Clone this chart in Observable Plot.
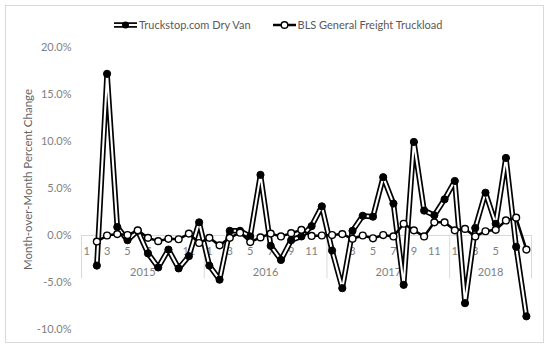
<!DOCTYPE html>
<html>
<head>
<meta charset="utf-8">
<script src="https://cdn.jsdelivr.net/npm/d3@7"></script>
<script src="https://cdn.jsdelivr.net/npm/@observablehq/plot@0.6"></script>
<style>
  body { margin: 0; background: #fff; }
  #wrap { position: relative; width: 550px; height: 350px; font-family: Lato, "Open Sans", sans-serif; }
  #frame { position: absolute; left: 5px; top: 5px; width: 539px; height: 338px; border: 1px solid #d9d9d9; box-sizing: border-box; pointer-events: none; }
  #legend { position: absolute; left: 113px; top: 18px; display: flex; align-items: center; font-size: 11px; color: #595959; }
  .item { display: flex; align-items: center; }
  .item svg { margin-right: 1px; }
  #chart { position: absolute; left: 0; top: 0; }
</style>
</head>
<body>
<div id="wrap">
  <div id="chart"></div>
  <div id="frame"></div>
  <div id="legend"></div>
</div>
<script>
// Category axis: years and how many months each covers; odd-month tick labels
const years = ["2015", "2016", "2017", "2018"];
const monthsPerYear = [12, 12, 12, 8];
const monthTickLabels = ["1", "3", "5", "7", "9", "11"];

const seriesNames = ["Truckstop.com Dry Van", "BLS General Freight Truckload"];

// Month-over-month % change, Jan 2015 .. Aug 2018 (Jan 2015 has no value)
const truckstop = [
  null, -3.2, 17.2, 0.9, -0.5, 0.5, -1.9, -3.4, -1.5, -3.5, -2.2, 1.4,
  -3.2, -4.7, 0.5, 0.5, -0.1, 6.45, -1.1, -2.6, -0.5, -0.1, 1.0, 3.1,
  -1.6, -5.6, 0.5, 2.1, 2.0, 6.2, 3.4, -5.25, 9.95, 2.65, 2.15, 3.85,
  5.8, -7.2, 0.8, 4.55, 1.25, 8.25, -1.2, -8.6
];
const bls = [
  null, -0.65, 0.0, 0.15, 0.05, 0.55, -0.25, -0.6, -0.35, -0.4, 0.2, -0.8,
  -0.25, -1.05, -0.25, 0.3, -0.7, -0.2, 0.2, -0.1, 0.25, 0.6, -0.05, 0.0,
  0.05, 0.15, -0.35, 0.0, -0.3, 0.05, -0.1, 1.25, 0.55, -0.1, 1.4, 1.4,
  0.55, 0.7, -0.1, 0.45, 0.6, 1.6, 1.9, -1.5
];
const yTicks = [-10, -5, 0, 5, 10, 15, 20];
const yTitle = "Month-over-Month Percent Change";

// Build category table
const cats = [];
years.forEach((yr, yi) => {
  for (let m = 1; m <= monthsPerYear[yi]; m++) cats.push({year: yr, month: String(m)});
});
cats.forEach((c, i) => { c.i = i + 0.5; c.ts = truckstop[i]; c.bls = bls[i]; });
const nCat = cats.length;
const pts = cats.filter(c => c.ts != null);
const monthLabelRows = cats.filter(c => monthTickLabels.includes(c.month));
let start = 0;
const yearRows = years.map((yr, yi) => { const r = {year: yr, x0: start, x1: start + monthsPerYear[yi]}; start += monthsPerYear[yi]; return r; });
const boundaries = [0, ...yearRows.map(r => r.x1)];

const gray = "#d9d9d9";
const tickColor = "#808080";

const chart = Plot.plot({
  width: 550,
  height: 350,
  marginLeft: 81,
  marginRight: 19,
  marginTop: 47,
  marginBottom: 21,
  style: {fontFamily: "Lato, 'Open Sans', sans-serif", fontSize: "11px", background: "transparent"},
  x: {domain: [0, nCat], axis: null},
  y: {domain: [-10, 20], axis: null},
  marks: [
    Plot.ruleY([0], {x1: 0, x2: nCat, stroke: gray, strokeWidth: 1}),
    Plot.ruleX(boundaries, {y1: 0, y2: -4.6, stroke: gray, strokeWidth: 1}),
    Plot.text(monthLabelRows, {x: "i", y: 0, text: "month", dy: 16, fill: tickColor, fontSize: 11}),
    Plot.text(yearRows, {x: d => (d.x0 + d.x1) / 2, y: 0, text: "year", dy: 37, fill: tickColor, fontSize: 11}),
    Plot.axisY(yTicks, {tickSize: 0, tickPadding: 10, tickFormat: d => d.toFixed(1) + "%", fill: tickColor, fontSize: 11, label: null}),
    Plot.text([yTitle], {frameAnchor: "left", textAnchor: "middle", rotate: -90, dx: -53, dy: -9, fill: "#666", fontSize: 11.5}),
    // Truckstop: compound line (black with white core) + black markers
    Plot.line(pts, {x: "i", y: "ts", stroke: "black", strokeWidth: 5.5, strokeLinejoin: "miter"}),
    Plot.line(pts, {x: "i", y: "ts", stroke: "white", strokeWidth: 2.1, strokeLinejoin: "miter"}),
    Plot.dot(pts, {x: "i", y: "ts", r: 3.6, fill: "black", stroke: "black", strokeWidth: 1}),
    // BLS: black line + white markers
    Plot.line(pts, {x: "i", y: "bls", stroke: "black", strokeWidth: 2.5}),
    Plot.dot(pts, {x: "i", y: "bls", r: 3.4, fill: "white", stroke: "black", strokeWidth: 1.4})
  ]
});
document.getElementById("chart").appendChild(chart);

// Legend
const legend = document.getElementById("legend");
const sym1 = `<svg width="25" height="10"><line x1="1" y1="5" x2="24" y2="5" stroke="black" stroke-width="5.5"/><line x1="1" y1="5" x2="24" y2="5" stroke="white" stroke-width="2.1"/><circle cx="12.5" cy="5" r="3.5" fill="black"/></svg>`;
const sym2 = `<svg width="25" height="10"><line x1="1" y1="5" x2="24" y2="5" stroke="black" stroke-width="2.5"/><circle cx="12.5" cy="5" r="3.3" fill="white" stroke="black" stroke-width="1.4"/></svg>`;
legend.innerHTML = `<div class="item">${sym1}<span>${seriesNames[0]}</span></div><div class="item" style="margin-left:21px">${sym2}<span>${seriesNames[1]}</span></div>`;
</script>
</body>
</html>
